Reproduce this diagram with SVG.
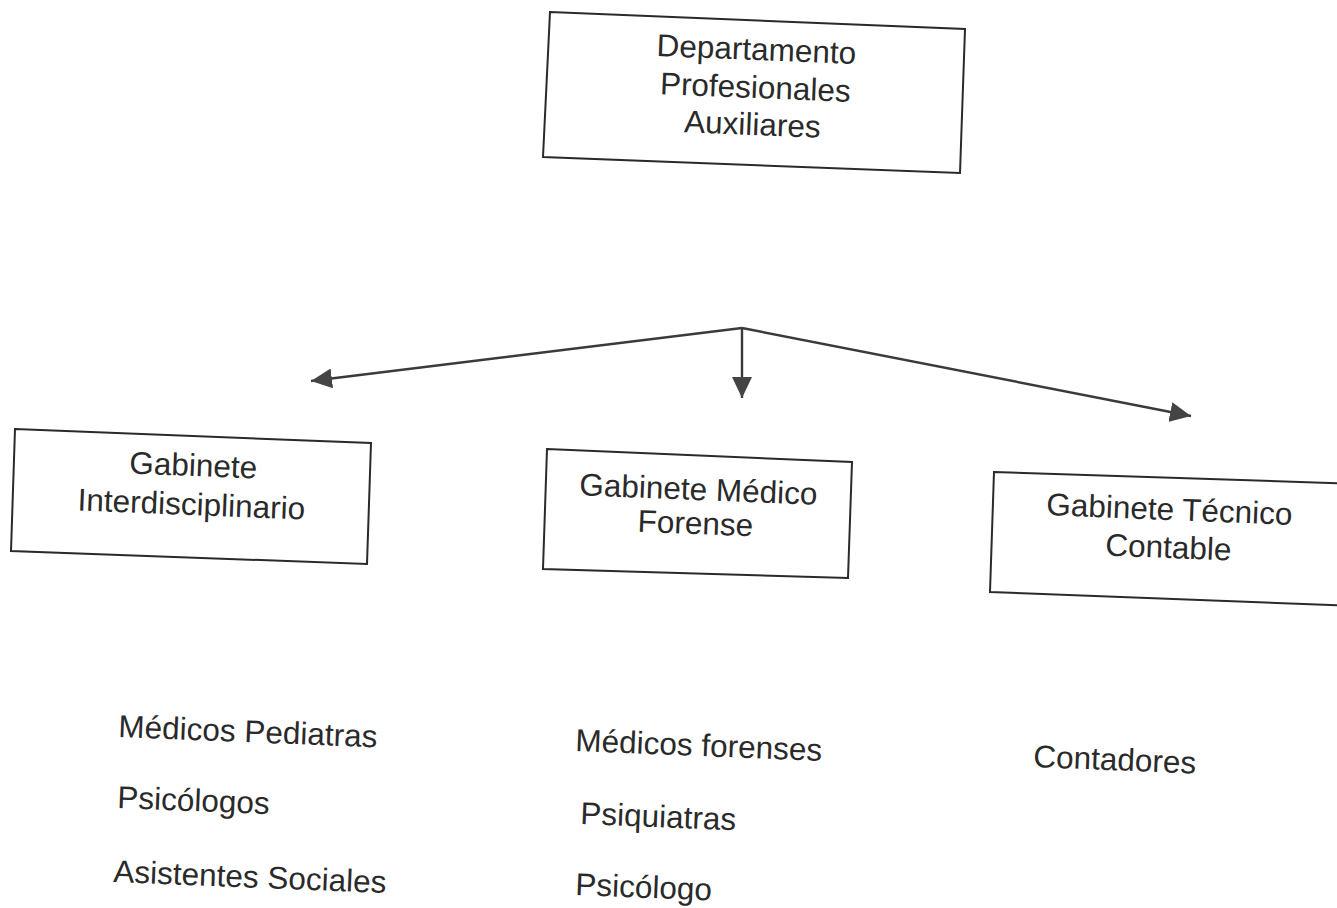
<svg xmlns="http://www.w3.org/2000/svg" width="1337" height="908" viewBox="0 0 1337 908">
  <defs>
    <marker id="arr" markerUnits="userSpaceOnUse" markerWidth="22" markerHeight="20" refX="21" refY="10" orient="auto">
      <path d="M0,0 L21,10 L0,20 z" fill="#444"/>
    </marker>
    <style>
      .box { fill: #fff; stroke: #2a2a2a; stroke-width: 2; }
      .t { font-family: "Liberation Sans", Arial, sans-serif; font-size: 31.5px; fill: #2a2a2a; }
      .c { text-anchor: middle; }
      .conn { stroke: #3a3a3a; stroke-width: 2.4; fill: none; }
    </style>
  </defs>
  <rect width="1337" height="908" fill="#fff"/>

  <g id="departamento">
    <polygon class="box" points="550,12 965,29 960,173 543,157"/>
    <text class="t c" x="756" y="60" transform="rotate(2.3 756 60)">Departamento</text>
    <text class="t c" x="755" y="98" transform="rotate(2.3 755 98)">Profesionales</text>
    <text class="t c" x="752" y="135" transform="rotate(2.3 752 135)">Auxiliares</text>
  </g>

  <g id="connectors">
    <line class="conn" x1="742" y1="328" x2="311" y2="381" marker-end="url(#arr)"/>
    <line class="conn" x1="742" y1="328" x2="742" y2="398" stroke-width="1.6" marker-end="url(#arr)"/>
    <line class="conn" x1="742" y1="328" x2="1191" y2="416" marker-end="url(#arr)"/>
  </g>

  <g id="interdisciplinario">
    <polygon class="box" points="15,429 371,443 367,564 11,551"/>
    <text class="t c" x="193" y="476" transform="rotate(2.3 193 476)">Gabinete</text>
    <text class="t c" x="191" y="515" transform="rotate(2.3 191 515)">Interdisciplinario</text>
  </g>

  <g id="medico">
    <polygon class="box" points="547,449 852,462 848,578 543,569"/>
    <text class="t c" x="698" y="500" transform="rotate(2.3 698 500)">Gabinete Médico</text>
    <text class="t c" x="695" y="534" transform="rotate(2.3 695 534)">Forense</text>
  </g>

  <g id="tecnico">
    <polygon class="box" points="994,472 1360,484 1356,606 990,592"/>
    <text class="t c" x="1169" y="520" transform="rotate(2.3 1169 520)">Gabinete Técnico</text>
    <text class="t c" x="1168" y="558" transform="rotate(2.3 1168 558)">Contable</text>
  </g>

  <g id="lista-interdisciplinario">
    <text class="t" x="118" y="737" transform="rotate(2.3 118 737)">Médicos Pediatras</text>
    <text class="t" x="117" y="808" transform="rotate(2.3 117 808)">Psicólogos</text>
    <text class="t" x="113" y="882" transform="rotate(2.3 113 882)">Asistentes Sociales</text>
  </g>

  <g id="lista-medico">
    <text class="t" x="575" y="751" transform="rotate(2.3 575 751)">Médicos forenses</text>
    <text class="t" x="580" y="824" transform="rotate(2.3 580 824)">Psiquiatras</text>
    <text class="t" x="575" y="895" transform="rotate(2.3 575 895)">Psicólogo</text>
  </g>

  <g id="lista-tecnico">
    <text class="t" x="1033" y="767" transform="rotate(2.3 1033 767)">Contadores</text>
  </g>
</svg>
